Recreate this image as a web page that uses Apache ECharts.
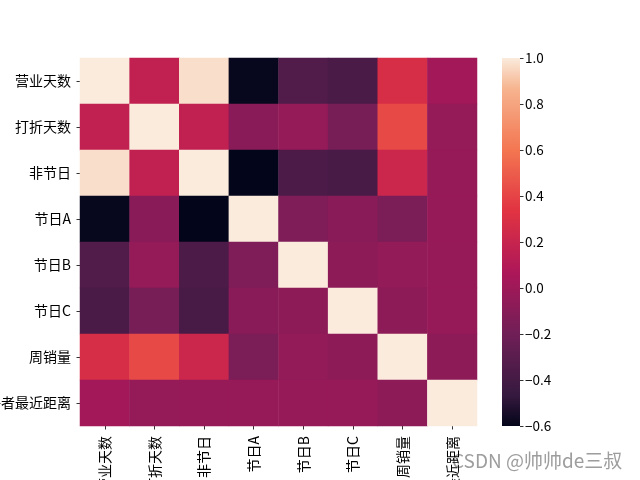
<!DOCTYPE html>
<html>
<head>
<meta charset="utf-8">
<script src="https://cdn.jsdelivr.net/npm/echarts@6/dist/echarts.min.js"></script>
<style>
html,body{margin:0;padding:0;background:#fff;}
#main{width:640px;height:480px;}
</style>
</head>
<body>
<div id="main"></div>
<script>
// Labels
var xLabels = ['营业天数', '打折天数', '非节日', '节日A', '节日B', '节日C', '周销量', '与竞争者最近距离'];
var yLabels = ['营业天数', '打折天数', '非节日', '节日A', '节日B', '节日C', '周销量', '与竞争者最近距离'];

// Correlation matrix rows
var row0 = [1.00, 0.17, 0.97, -0.59, -0.34, -0.37, 0.28, 0.02];
var row1 = [0.17, 1.00, 0.17, -0.09, -0.04, -0.17, 0.42, -0.04];
var row2 = [0.97, 0.17, 1.00, -0.60, -0.36, -0.38, 0.22, -0.03];
var row3 = [-0.59, -0.09, -0.60, 1.00, -0.14, -0.09, -0.15, -0.03];
var row4 = [-0.34, -0.04, -0.36, -0.14, 1.00, -0.07, -0.05, -0.03];
var row5 = [-0.37, -0.17, -0.38, -0.09, -0.07, 1.00, -0.07, -0.03];
var row6 = [0.28, 0.42, 0.22, -0.15, -0.05, -0.07, 1.00, -0.07];
var row7 = [0.02, -0.04, -0.03, -0.03, -0.03, -0.03, -0.07, 1.00];
var rows = [row0, row1, row2, row3, row4, row5, row6, row7];

// Colorbar range and ticks
var vMin = -0.6;
var vMax = 1.0;
var cbTickStep = 0.2;

// rocket colormap anchor points
var rocketStops = [
  [0.000, [3, 5, 26]],
  [0.083, [53, 25, 62]],
  [0.250, [112, 31, 87]],
  [0.417, [173, 23, 89]],
  [0.583, [225, 51, 66]],
  [0.750, [243, 118, 81]],
  [0.917, [246, 180, 143]],
  [1.000, [250, 235, 221]]
];
function rocket(t) {
  t = Math.max(0, Math.min(1, t));
  for (var i = 1; i < rocketStops.length; i++) {
    if (t <= rocketStops[i][0]) {
      var a = rocketStops[i - 1], b = rocketStops[i];
      var f = (t - a[0]) / (b[0] - a[0]);
      var c = a[1].map(function (v, k) { return Math.round(v + (b[1][k] - v) * f); });
      return 'rgb(' + c.join(',') + ')';
    }
  }
  return 'rgb(250,235,221)';
}
var nSamples = 49;
var cmap = [];
for (var i = 0; i < nSamples; i++) cmap.push(rocket(i / (nSamples - 1)));

var heatData = [];
rows.forEach(function (r, yi) {
  r.forEach(function (v, xi) { heatData.push([xi, yi, v]); });
});

var FONT = '"Noto Sans CJK SC", "Noto Sans", sans-serif';
function fmt(v) {
  var s = (Math.round(v * 10) / 10).toFixed(1);
  if (s === '-0.0') s = '0.0';
  return s.replace('-', '\u2212');
}

var chart = echarts.init(document.getElementById('main'), null, { renderer: 'canvas' });
chart.setOption({
  backgroundColor: '#ffffff',
  animation: false,
  textStyle: { fontFamily: FONT },
  grid: [
    { left: 80, right: 163, top: 58, bottom: 54, containLabel: false, outerBoundsMode: 'none' },
    { left: 502, width: 18, top: 58, bottom: 54, containLabel: false, outerBoundsMode: 'none' }
  ],
  xAxis: [
    {
      type: 'category', data: xLabels, gridIndex: 0,
      axisLine: { show: false },
      axisTick: { show: true, alignWithLabel: true, length: 3.5, lineStyle: { color: '#000', width: 0.8 } },
      axisLabel: { rotate: 90, margin: 10, color: '#000', fontSize: 14, fontFamily: FONT, interval: 0, hideOverlap: false },
      splitLine: { show: false }
    },
    {
      type: 'category', data: ['cb'], gridIndex: 1, show: false
    }
  ],
  yAxis: [
    {
      type: 'category', data: yLabels, gridIndex: 0, inverse: true,
      axisLine: { show: false },
      axisTick: { show: true, alignWithLabel: true, length: 3.5, lineStyle: { color: '#000', width: 0.8 } },
      axisLabel: { margin: 9, color: '#000', fontSize: 14, fontFamily: FONT, interval: 0 },
      splitLine: { show: false }
    },
    {
      type: 'value', gridIndex: 1, position: 'right',
      min: vMin, max: vMax, interval: cbTickStep,
      axisLine: { show: false },
      axisTick: { show: true, length: 3.5, lineStyle: { color: '#000', width: 0.8 } },
      axisLabel: { margin: 5, color: '#000', fontSize: 13.5, fontFamily: FONT, formatter: fmt, showMinLabel: true, showMaxLabel: true },
      splitLine: { show: false }
    }
  ],
  visualMap: {
    show: false, type: 'continuous', seriesIndex: 0, dimension: 2,
    min: vMin, max: vMax, inRange: { color: cmap }
  },
  series: [
    {
      type: 'heatmap', xAxisIndex: 0, yAxisIndex: 0, data: heatData,
      itemStyle: { borderWidth: 0 },
      emphasis: { disabled: true }
    },
    {
      type: 'custom', xAxisIndex: 1, yAxisIndex: 1,
      data: [[0, vMin, vMax]],
      renderItem: function (params, api) {
        var top = api.coord([0, api.value(2)]);
        var bot = api.coord([0, api.value(1)]);
        var w = api.size([1, 0])[0];
        var stops = [];
        for (var i = 0; i < cmap.length; i++) {
          stops.push({ offset: i / (cmap.length - 1), color: cmap[cmap.length - 1 - i] });
        }
        return {
          type: 'rect',
          shape: { x: top[0] - w / 2, y: top[1], width: w, height: bot[1] - top[1] },
          style: { fill: new echarts.graphic.LinearGradient(0, 0, 0, 1, stops) }
        };
      }
    }
  ],
  graphic: [
    {
      type: 'text', left: 452, top: 451,
      style: { text: 'CSDN @帅帅de三叔', fill: 'rgba(140,140,140,0.85)', font: '19px ' + FONT }
    }
  ]
});
</script>
</body>
</html>
